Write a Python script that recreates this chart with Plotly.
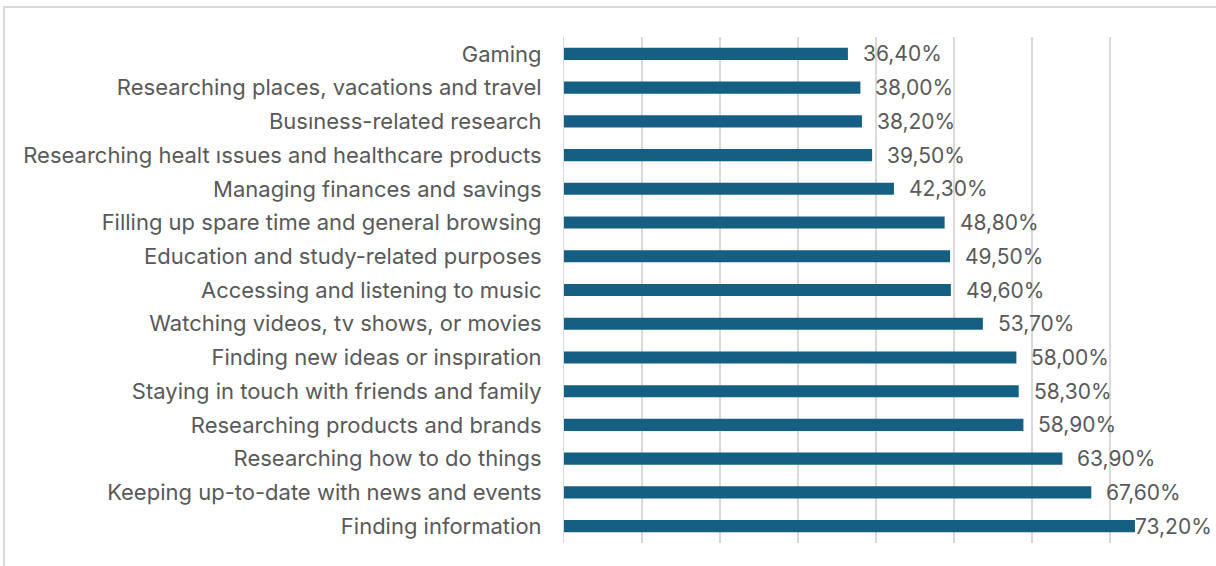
import plotly.graph_objects as go

categories = [
    "Gaming",
    "Researching places, vacations and travel",
    "Busıness-related research",
    "Researching healt ıssues and healthcare products",
    "Managing finances and savings",
    "Filling up spare time and general browsing",
    "Education and study-related purposes",
    "Accessing and listening to music",
    "Watching videos, tv shows, or movies",
    "Finding new ideas or inspıration",
    "Staying in touch with friends and family",
    "Researching products and brands",
    "Researching how to do things",
    "Keeping up-to-date with news and events",
    "Finding information",
]
values = [36.4, 38.0, 38.2, 39.5, 42.3, 48.8, 49.5, 49.6, 53.7, 58.0, 58.3, 58.9, 63.9, 67.6, 73.2]
labels = [f"{v:.2f}%".replace(".", ",") for v in values]

BAR = "#156082"
TXT = "#595959"
FONT = "Inter"

fig = go.Figure(go.Bar(
    x=values, y=categories, orientation="h",
    marker=dict(color=BAR, line=dict(width=0)),
    width=0.36, hoverinfo="skip",
))

# plot area: 624 px for 0..80 -> 7.8 px per unit; labels kept inside chart
px_per = 624 / 80
limit_px = 645
label_w = 76
for c, v, t in zip(categories, values, labels):
    end_px = v * px_per
    shift = min(13, limit_px - label_w - end_px)
    fig.add_annotation(x=v, y=c, text=t, showarrow=False, xanchor="left",
                       xshift=shift, font=dict(size=21, color=TXT, family=FONT))

fig.update_xaxes(range=[0, 80], dtick=10, showgrid=True, gridcolor="#d9d9d9",
                 gridwidth=1.5, showticklabels=False, zeroline=False,
                 showline=False, fixedrange=True)
fig.update_yaxes(autorange="reversed", showline=True, linecolor="#d9d9d9",
                 linewidth=1, ticks="", ticklabelstandoff=17, fixedrange=True,
                 tickfont=dict(size=22, color=TXT, family=FONT))

# outer chart border (top and left visible)
fig.add_shape(type="rect", xref="paper", yref="paper",
              x0=(4 - 564) / 624, x1=(1240 - 564) / 624,
              y0=-60 / 506, y1=1 + 30 / 506,
              line=dict(color="#d9d9d9", width=2),
              fillcolor="rgba(0,0,0,0)", layer="below")

fig.update_layout(
    width=1216, height=566,
    margin=dict(l=564, r=28, t=37, b=23),
    paper_bgcolor="white", plot_bgcolor="white",
    font=dict(family=FONT, color=TXT, size=18),
    showlegend=False, bargap=0.64,
)
fig.write_html("out.html", config={"displayModeBar": False},
               post_script="document.body.style.margin='0';document.body.style.overflow='hidden';")
